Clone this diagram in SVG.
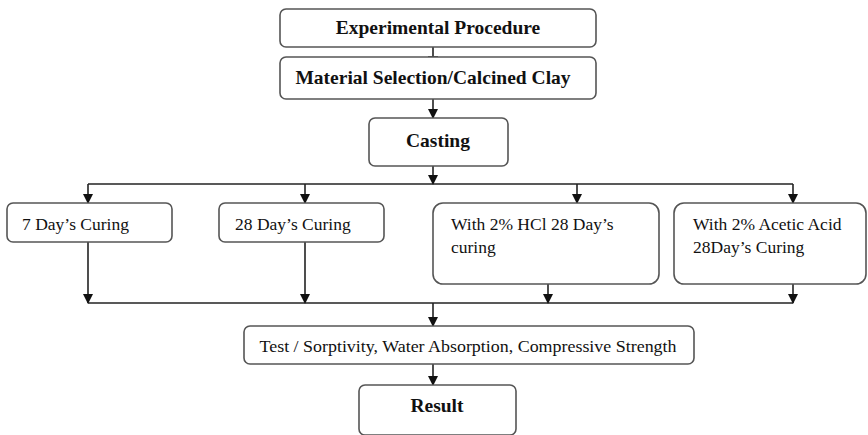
<svg xmlns="http://www.w3.org/2000/svg" width="868" height="435" viewBox="0 0 868 435">
<style>
.box{fill:#fff;stroke:#555;stroke-width:1.6}
.t{font-family:"Liberation Serif","Times New Roman",serif;fill:#111}
.b{font-weight:bold;font-size:19.5px}
.r{font-size:17.5px}
.ln{stroke:#222;stroke-width:1.6;fill:none}
</style>
<defs>
<marker id="ah" markerWidth="10" markerHeight="10" refX="9" refY="5" orient="auto" markerUnits="userSpaceOnUse">
<path d="M0,0 L10,5 L0,10 Z" fill="#111"/>
</marker>
</defs>
<rect width="868" height="435" fill="#fff"/>
<g id="connectors">
<path class="ln" d="M433,47 V57"/>
<path class="ln" d="M428,57 H438"/>
<path class="ln" d="M433,99 V118" marker-end="url(#ah)"/>
<path class="ln" d="M433,166 V184" marker-end="url(#ah)"/>
<path class="ln" d="M88,184 H793"/>
<path class="ln" d="M88,184 V203" marker-end="url(#ah)"/>
<path class="ln" d="M305,184 V203" marker-end="url(#ah)"/>
<path class="ln" d="M577,184 V203" marker-end="url(#ah)"/>
<path class="ln" d="M793,184 V203" marker-end="url(#ah)"/>
<path class="ln" d="M88,242 V303" marker-end="url(#ah)"/>
<path class="ln" d="M305,242 V303" marker-end="url(#ah)"/>
<path class="ln" d="M548,284 V303" marker-end="url(#ah)"/>
<path class="ln" d="M793,284 V303" marker-end="url(#ah)"/>
<path class="ln" d="M88,303 H793"/>
<path class="ln" d="M433,303 V326" marker-end="url(#ah)"/>
<path class="ln" d="M433,364 V385" marker-end="url(#ah)"/>
</g>
<g id="n1"><rect class="box" x="280" y="9" width="316" height="38" rx="6"/>
<text class="t b" x="438" y="34" text-anchor="middle">Experimental Procedure</text></g>
<g id="n2"><rect class="box" x="280" y="57" width="316" height="42" rx="6"/>
<text class="t b" x="433" y="84" text-anchor="middle">Material Selection/Calcined Clay</text></g>
<g id="n3"><rect class="box" x="369" y="118" width="139" height="48" rx="6"/>
<text class="t b" x="438" y="147" text-anchor="middle">Casting</text></g>
<g id="n4"><rect class="box" x="7" y="203" width="165" height="39" rx="6"/>
<text class="t r" x="22" y="230">7 Day’s Curing</text></g>
<g id="n5"><rect class="box" x="219" y="203" width="165" height="39" rx="6"/>
<text class="t r" x="235" y="230">28 Day’s Curing</text></g>
<g id="n6"><rect class="box" x="433" y="203" width="226" height="81" rx="10"/>
<text class="t r" x="451" y="230">With 2% HCl 28 Day’s</text>
<text class="t r" x="451" y="253">curing</text></g>
<g id="n7"><rect class="box" x="674" y="203" width="192" height="81" rx="10"/>
<text class="t r" x="693" y="230">With 2% Acetic Acid</text>
<text class="t r" x="693" y="253">28Day’s Curing</text></g>
<g id="n8"><rect class="box" x="244" y="326" width="450" height="38" rx="6"/>
<text class="t r" x="468" y="352" text-anchor="middle" textLength="417" lengthAdjust="spacingAndGlyphs">Test / Sorptivity, Water Absorption, Compressive Strength</text></g>
<g id="n9"><rect class="box" x="359" y="385" width="157" height="50" rx="6"/>
<text class="t b" x="437" y="412" text-anchor="middle">Result</text></g>
</svg>
